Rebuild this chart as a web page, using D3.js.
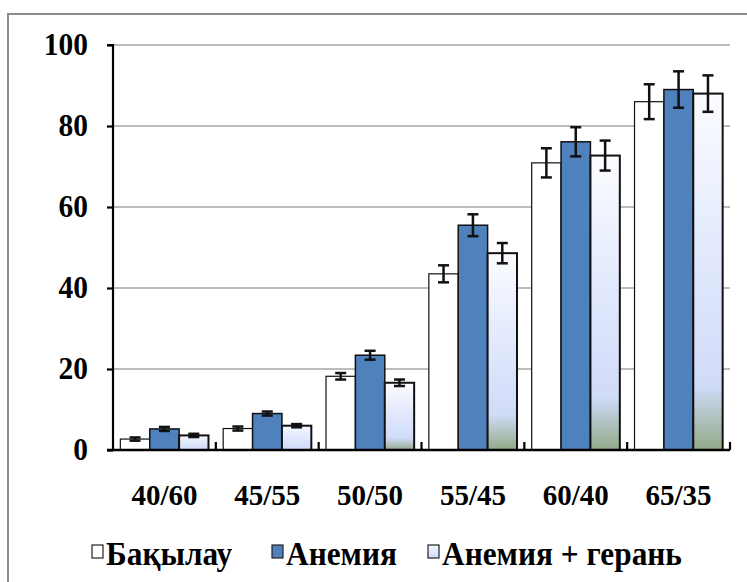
<!DOCTYPE html>
<html><head><meta charset="utf-8">
<script src="https://cdn.jsdelivr.net/npm/d3@7"></script>
<style>body{margin:0;background:#fff}svg{display:block}
.lbl{font-family:"Liberation Serif","Times New Roman",Times,serif;font-weight:bold;fill:#000}</style>
</head><body><svg id="c" width="747" height="582"></svg>
<script>
const categories = ["40/60","45/55","50/50","55/45","60/40","65/35"];
const seriesNames = ["Бақылау","Анемия","Анемия + герань"];
const control = [2.7, 5.3, 18.2, 43.5, 70.9, 86.0];
const controlErr = [0.4, 0.5, 0.8, 2.1, 3.6, 4.3];
const anemia = [5.2, 9.0, 23.4, 55.5, 76.1, 89.0];
const anemiaErr = [0.5, 0.5, 1.1, 2.7, 3.6, 4.5];
const geran = [3.6, 6.0, 16.6, 48.6, 72.7, 88.0];
const geranErr = [0.4, 0.4, 0.8, 2.5, 3.7, 4.5];
const yTicks = [0,20,40,60,80,100];

const svg = d3.select("#c");
const m = {l:113, r:730, t:45, b:450};

const defs = svg.append("defs");
const g1 = defs.append("linearGradient").attr("id","lg").attr("x1",0).attr("y1",0).attr("x2",0).attr("y2",1);
[[0,"#fbfcff"],[0.45,"#e2e9fd"],[0.82,"#d0dbf8"],[1,"#93a988"]].forEach(s=>g1.append("stop").attr("offset",s[0]).attr("stop-color",s[1]));
const g2 = defs.append("linearGradient").attr("id","lgs").attr("x1",0).attr("y1",0).attr("x2",0).attr("y2",1);
[[0,"#f4f7ff"],[1,"#cfdaf9"]].forEach(s=>g2.append("stop").attr("offset",s[0]).attr("stop-color",s[1]));

// frame
svg.append("rect").attr("x",8).attr("y",14).attr("width",760).attr("height",600)
  .attr("fill","none").attr("stroke","#8c8c8c").attr("stroke-width",2);

const x = d3.scaleBand().domain(categories).range([m.l,m.r]).paddingInner(0).paddingOuter(0);
const inner = d3.scaleBand().domain([0,1,2]).range([0,x.bandwidth()]).paddingOuter(0.25).paddingInner(0);
const y = d3.scaleLinear().domain([0,100]).range([m.b,m.t]);

function label(parent, tx, ty, txt, size, anchor, sx){
  parent.append("g").attr("transform",`translate(${tx},${ty}) scale(${sx},1)`)
    .append("text").attr("class","lbl").attr("x",0).attr("y",0).attr("text-anchor",anchor)
    .style("font-size",size+"px").text(txt);
}

// gridlines
svg.append("g").selectAll("line").data(yTicks.filter(d=>d>0)).join("line")
  .attr("x1",m.l).attr("x2",m.r).attr("y1",d=>y(d)).attr("y2",d=>y(d))
  .attr("stroke","#a6a6a6").attr("stroke-width",1.5);

const data = [
  {vals:control, errs:controlErr, fill:"#ffffff", sw:1.2},
  {vals:anemia, errs:anemiaErr, fill:"#4f81bd", sw:1.5},
  {vals:geran, errs:geranErr, fill:"url(#lg)", sw:2}
];

data.forEach((s,si)=>{
  const g = svg.append("g");
  g.selectAll("rect").data(s.vals).join("rect")
    .attr("x",(d,i)=>x(categories[i])+inner(si))
    .attr("y",d=>y(d)).attr("width",inner.bandwidth()).attr("height",d=>y(0)-y(d))
    .attr("fill",(d,i)=> si===2 && d<10 ? "url(#lgs)" : s.fill)
    .attr("stroke","#111").attr("stroke-width",s.sw);
});
data.forEach((s,si)=>{
  const g = svg.append("g").attr("stroke","#111").attr("stroke-width",2.5);
  s.vals.forEach((v,i)=>{
    const cx = x(categories[i])+inner(si)+inner.bandwidth()/2;
    const e = s.errs[i];
    g.append("line").attr("x1",cx).attr("x2",cx).attr("y1",y(v+e)).attr("y2",y(v-e));
    g.append("line").attr("x1",cx-5.5).attr("x2",cx+5.5).attr("y1",y(v+e)).attr("y2",y(v+e));
    g.append("line").attr("x1",cx-5.5).attr("x2",cx+5.5).attr("y1",y(v-e)).attr("y2",y(v-e));
  });
});

// y axis
const ya = svg.append("g").attr("transform",`translate(${m.l},0)`)
  .call(d3.axisLeft(y).tickValues(yTicks).tickSize(6).tickFormat(""));
ya.select(".domain").attr("stroke","#000").attr("stroke-width",2.2).attr("d",`M-6,${m.t}H0V${m.b}`);
ya.selectAll(".tick line").attr("stroke","#000").attr("stroke-width",2.2);
yTicks.forEach(t=>label(svg, 88, y(t)+10, String(t), 31, "end", 0.95));

// x axis
const xa = svg.append("g").attr("transform",`translate(0,${m.b})`);
xa.append("line").attr("x1",m.l-6).attr("x2",m.r).attr("y1",0).attr("y2",0).attr("stroke","#000").attr("stroke-width",2.5);
const bounds = categories.map(c=>x(c)+x.bandwidth());
xa.selectAll("line.t").data(bounds).join("line").attr("class","t")
  .attr("x1",d=>d).attr("x2",d=>d).attr("y1",0).attr("y2",-8).attr("stroke","#000").attr("stroke-width",2.2);
categories.forEach(c=>label(svg, x(c)+x.bandwidth()/2, 505, c, 29, "middle", 1.0));

// legend
const legItems = [
  {name:seriesNames[0], fill:"#ffffff", mx:92},
  {name:seriesNames[1], fill:"#4f81bd", mx:272},
  {name:seriesNames[2], fill:"url(#lgs)", mx:428}
];
const lg = svg.append("g");
legItems.forEach(it=>{
  lg.append("rect").attr("x",it.mx).attr("y",545).attr("width",11).attr("height",13)
    .attr("fill",it.fill).attr("stroke","#222").attr("stroke-width",1.2);
  label(lg, it.mx+14, 565, it.name, 33, "start", 0.95);
});
</script></body></html>
